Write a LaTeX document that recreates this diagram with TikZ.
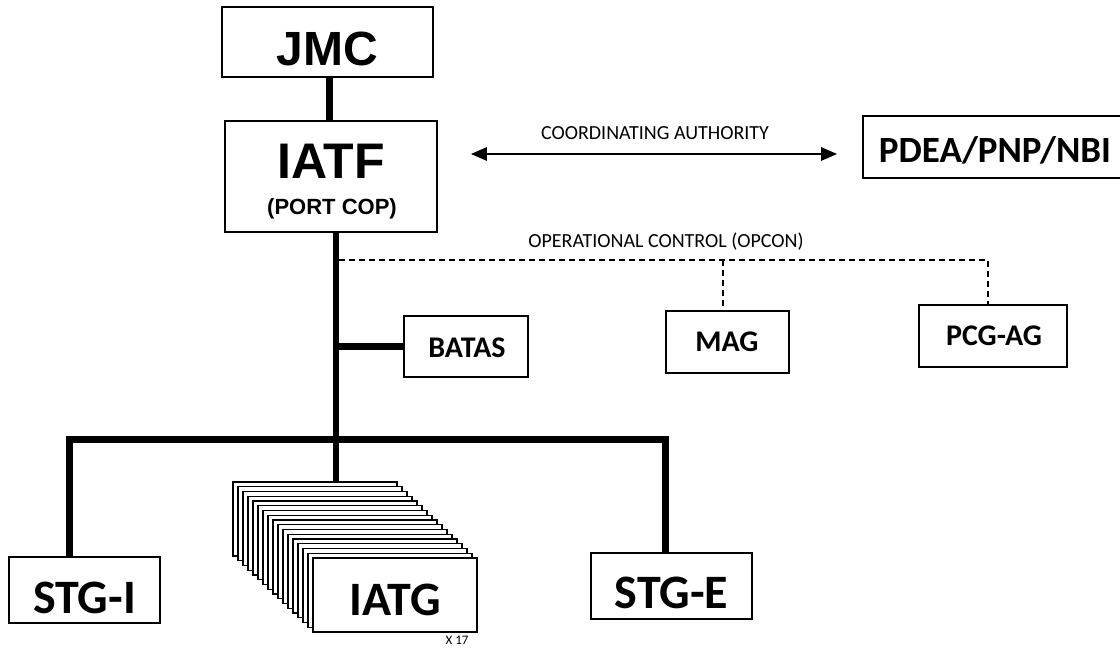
\documentclass[tikz,border=0pt]{standalone}
\usepackage{fontspec}
\setmainfont{Carlito}
\newfontfamily\arialf{Liberation Sans}
\usetikzlibrary{arrows.meta,backgrounds}
\begin{document}
\begin{tikzpicture}[x=1pt,y=-1pt,
  box/.style n args={2}{draw, line width=1.6pt, fill=white, inner sep=0pt,
    minimum width=#1, minimum height=#2},
  card/.style={box={164pt}{74pt}, line width=1.2pt},
  lblA/.style={inner sep=0pt, anchor=base, font={\arialf\bfseries\fontsize{48}{48}\selectfont}},
  lblB/.style={inner sep=0pt, anchor=base, font={\bfseries\fontsize{#1}{#1}\selectfont}},
  note/.style={inner sep=0pt, font={\fontsize{#1}{#1}\selectfont}},
  heavy/.style={line width=#1, line join=miter},
  opline/.style={line width=1.8pt, dash pattern=on 6pt off 4pt},
  biarrow/.style={line width=2.6pt, {Triangle[length=16pt,width=13pt]}-{Triangle[length=16pt,width=13pt]}}
]
\useasboundingbox (0,0) rectangle (1120,648);

% boxes
\node[box={211pt}{70pt}] (jmc) at (327.5,42) {};
\node[lblA] (jmct) at (327.5,65) {JMC};
\node[box={212pt}{111pt}] (iatf) at (331,176.5) {};
\node[lblA, font={\arialf\bfseries\fontsize{50}{50}\selectfont}] (iatft) at (331,178) {IATF};
\node[lblA, font={\arialf\bfseries\fontsize{22}{22}\selectfont}] (portcop) at (332,214) {(PORT COP)};

\node[box={261pt}{62pt}] (pdea) at (993.5,147) {};
\node[lblB=37] (pdeat) at (995,162) {PDEA/PNP/NBI};

\node[box={124pt}{61pt}] (batas) at (466,346.5) {};
\node[lblB=30] (batast) at (467,357) {BATAS};
\node[box={123pt}{62pt}] (mag) at (727.5,342) {};
\node[lblB=30] (magt) at (727,351) {MAG};
\node[box={148pt}{62pt}] (pcg) at (993,336) {};
\node[lblB=30] (pcgt) at (994,345) {PCG-AG};

\node[box={151pt}{66pt}] (stgi) at (84.5,590) {};
\node[lblB=48] (stgit) at (84.5,613) {STG-I};
\node[box={161pt}{66pt}] (stge) at (671.5,586) {};
\node[lblB=48] (stget) at (671.5,608) {STG-E};

\foreach \i in {0,...,15}
  \node[card] (card\i) at ({315+5*\i},{519+4.75*\i}) {};
\node[card] (iatg) at (395,595) {};
\node[lblB=48] (iatgt) at (395,615) {IATG};
\node[note=13] (x17) at (457,640) {X 17};

% labels
\node[note=20] (coord) at (655,133) {COORDINATING AUTHORITY};
\node[note=20] (opcon) at (666,242) {OPERATIONAL CONTROL (OPCON)};

\coordinate (trunk) at ([xshift=5pt]iatf.south);
\coordinate (bus) at (trunk |- 0,439);

\begin{scope}[on background layer]
  \draw[heavy=7pt] ([xshift=1.5pt]jmc.south) -- ([xshift=1.5pt]jmc.south |- iatf.north);
  \draw[heavy=6pt] (trunk) -- (trunk |- card0.north);
  \draw[heavy=7pt] (trunk |- batas.west) -- (batas.west);
  \draw[heavy=7pt] ([xshift=-15pt]stgi.north) |- (bus) -| ([xshift=-6.5pt]stge.north);
  \draw[opline] ([xshift=3pt]trunk |- 0,260) -| ([xshift=-5pt]pcg.north);
  \draw[opline] ([xshift=-4.5pt]mag.north |- 0,260) -- ([xshift=-4.5pt]mag.north);
  \draw[biarrow, shorten <=33pt, shorten >=25pt] (iatf.east |- 0,154) -- (pdea.west |- 0,154);
\end{scope}
\end{tikzpicture}
\end{document}
